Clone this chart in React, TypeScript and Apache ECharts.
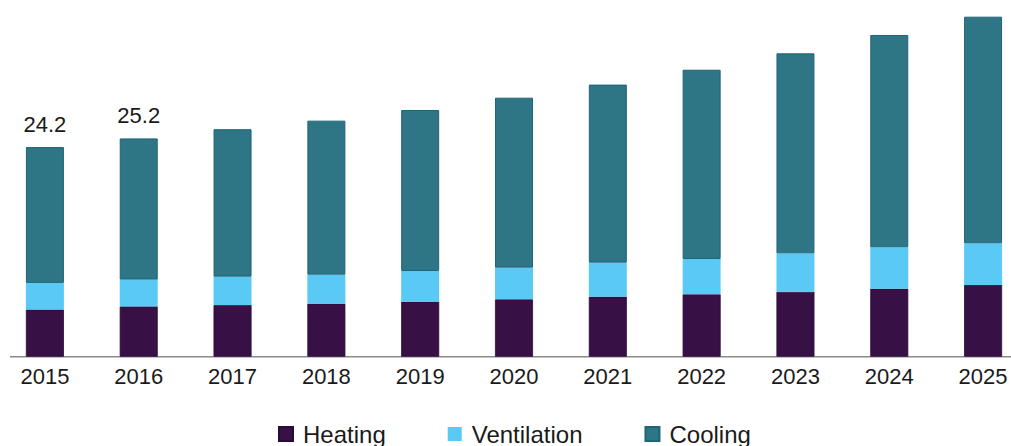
import React, { useEffect, useRef } from "react";
import * as echarts from "echarts";

const years = ["2015", "2016", "2017", "2018", "2019", "2020", "2021", "2022", "2023", "2024", "2025"];
const heating = [5.45, 5.8, 5.97, 6.12, 6.35, 6.63, 6.93, 7.2, 7.5, 7.85, 8.28];
const ventilation = [3.07, 3.1, 3.27, 3.35, 3.54, 3.65, 3.93, 4.08, 4.43, 4.78, 4.81];
const cooling = [15.68, 16.3, 17.02, 17.78, 18.59, 19.62, 20.55, 21.85, 23.09, 24.51, 26.16];
const totalLabels = ["24.2", "25.2", "", "", "", "", "", "", "", "", ""];

const FONT = "'Liberation Sans', Arial, sans-serif";

export default function App() {
  const ref = useRef<HTMLDivElement>(null);
  useEffect(() => {
    if (!ref.current) return;
    const chart = echarts.init(ref.current, undefined, { renderer: "svg" });
    chart.setOption({
      animation: false,
      textStyle: { fontFamily: FONT },
      grid: {
        left: -2,
        width: 1032,
        top: 10.2,
        height: 346.5,
        containLabel: false,
        outerBoundsMode: "none",
      },
      legend: {
        data: ["Heating", "Ventilation", "Cooling"],
        left: 273,
        top: 417,
        icon: "rect",
        itemWidth: 14,
        itemHeight: 14,
        itemGap: 62,
        textStyle: { fontFamily: FONT, fontSize: 24, color: "#1a1a1a", padding: [0, 0, 0, 5] },
      },
      xAxis: {
        type: "category",
        data: years,
        axisLine: { show: false },
        axisTick: { show: false },
        axisLabel: { fontFamily: FONT, fontSize: 22, color: "#1a1a1a", margin: 9 },
      },
      yAxis: {
        type: "value",
        min: 0,
        max: 40,
        show: false,
        splitLine: { show: false },
      },
      graphic: [
        {
          type: "line",
          shape: { x1: 10, y1: 356.7, x2: 1011, y2: 356.7 },
          style: { stroke: "#8a8a8a", lineWidth: 1.5 },
          z: 0,
        },
      ],
      series: [
        {
          name: "Heating",
          type: "bar",
          stack: "total",
          barWidth: 38,
          data: heating,
          itemStyle: { color: "#371046", borderColor: "#2a0a38", borderWidth: 0.8 },
        },
        {
          name: "Ventilation",
          type: "bar",
          stack: "total",
          barWidth: 38,
          data: ventilation,
          itemStyle: { color: "#5bc9f5" },
        },
        {
          name: "Cooling",
          type: "bar",
          stack: "total",
          barWidth: 38,
          data: cooling.map((v, i) => ({
            value: v,
            label: {
              show: totalLabels[i] !== "",
              position: "top",
              distance: 12,
              formatter: () => totalLabels[i],
              fontFamily: FONT,
              fontSize: 22,
              color: "#1a1a1a",
            },
          })),
          itemStyle: { color: "#2e7586", borderColor: "#1d6577", borderWidth: 1 },
        },
      ],
    });
    return () => chart.dispose();
  }, []);
  return (
    <div
      ref={ref}
      style={{ position: "fixed", left: 0, top: 0, width: 1011, height: 446, background: "#fff" }}
    />
  );
}
